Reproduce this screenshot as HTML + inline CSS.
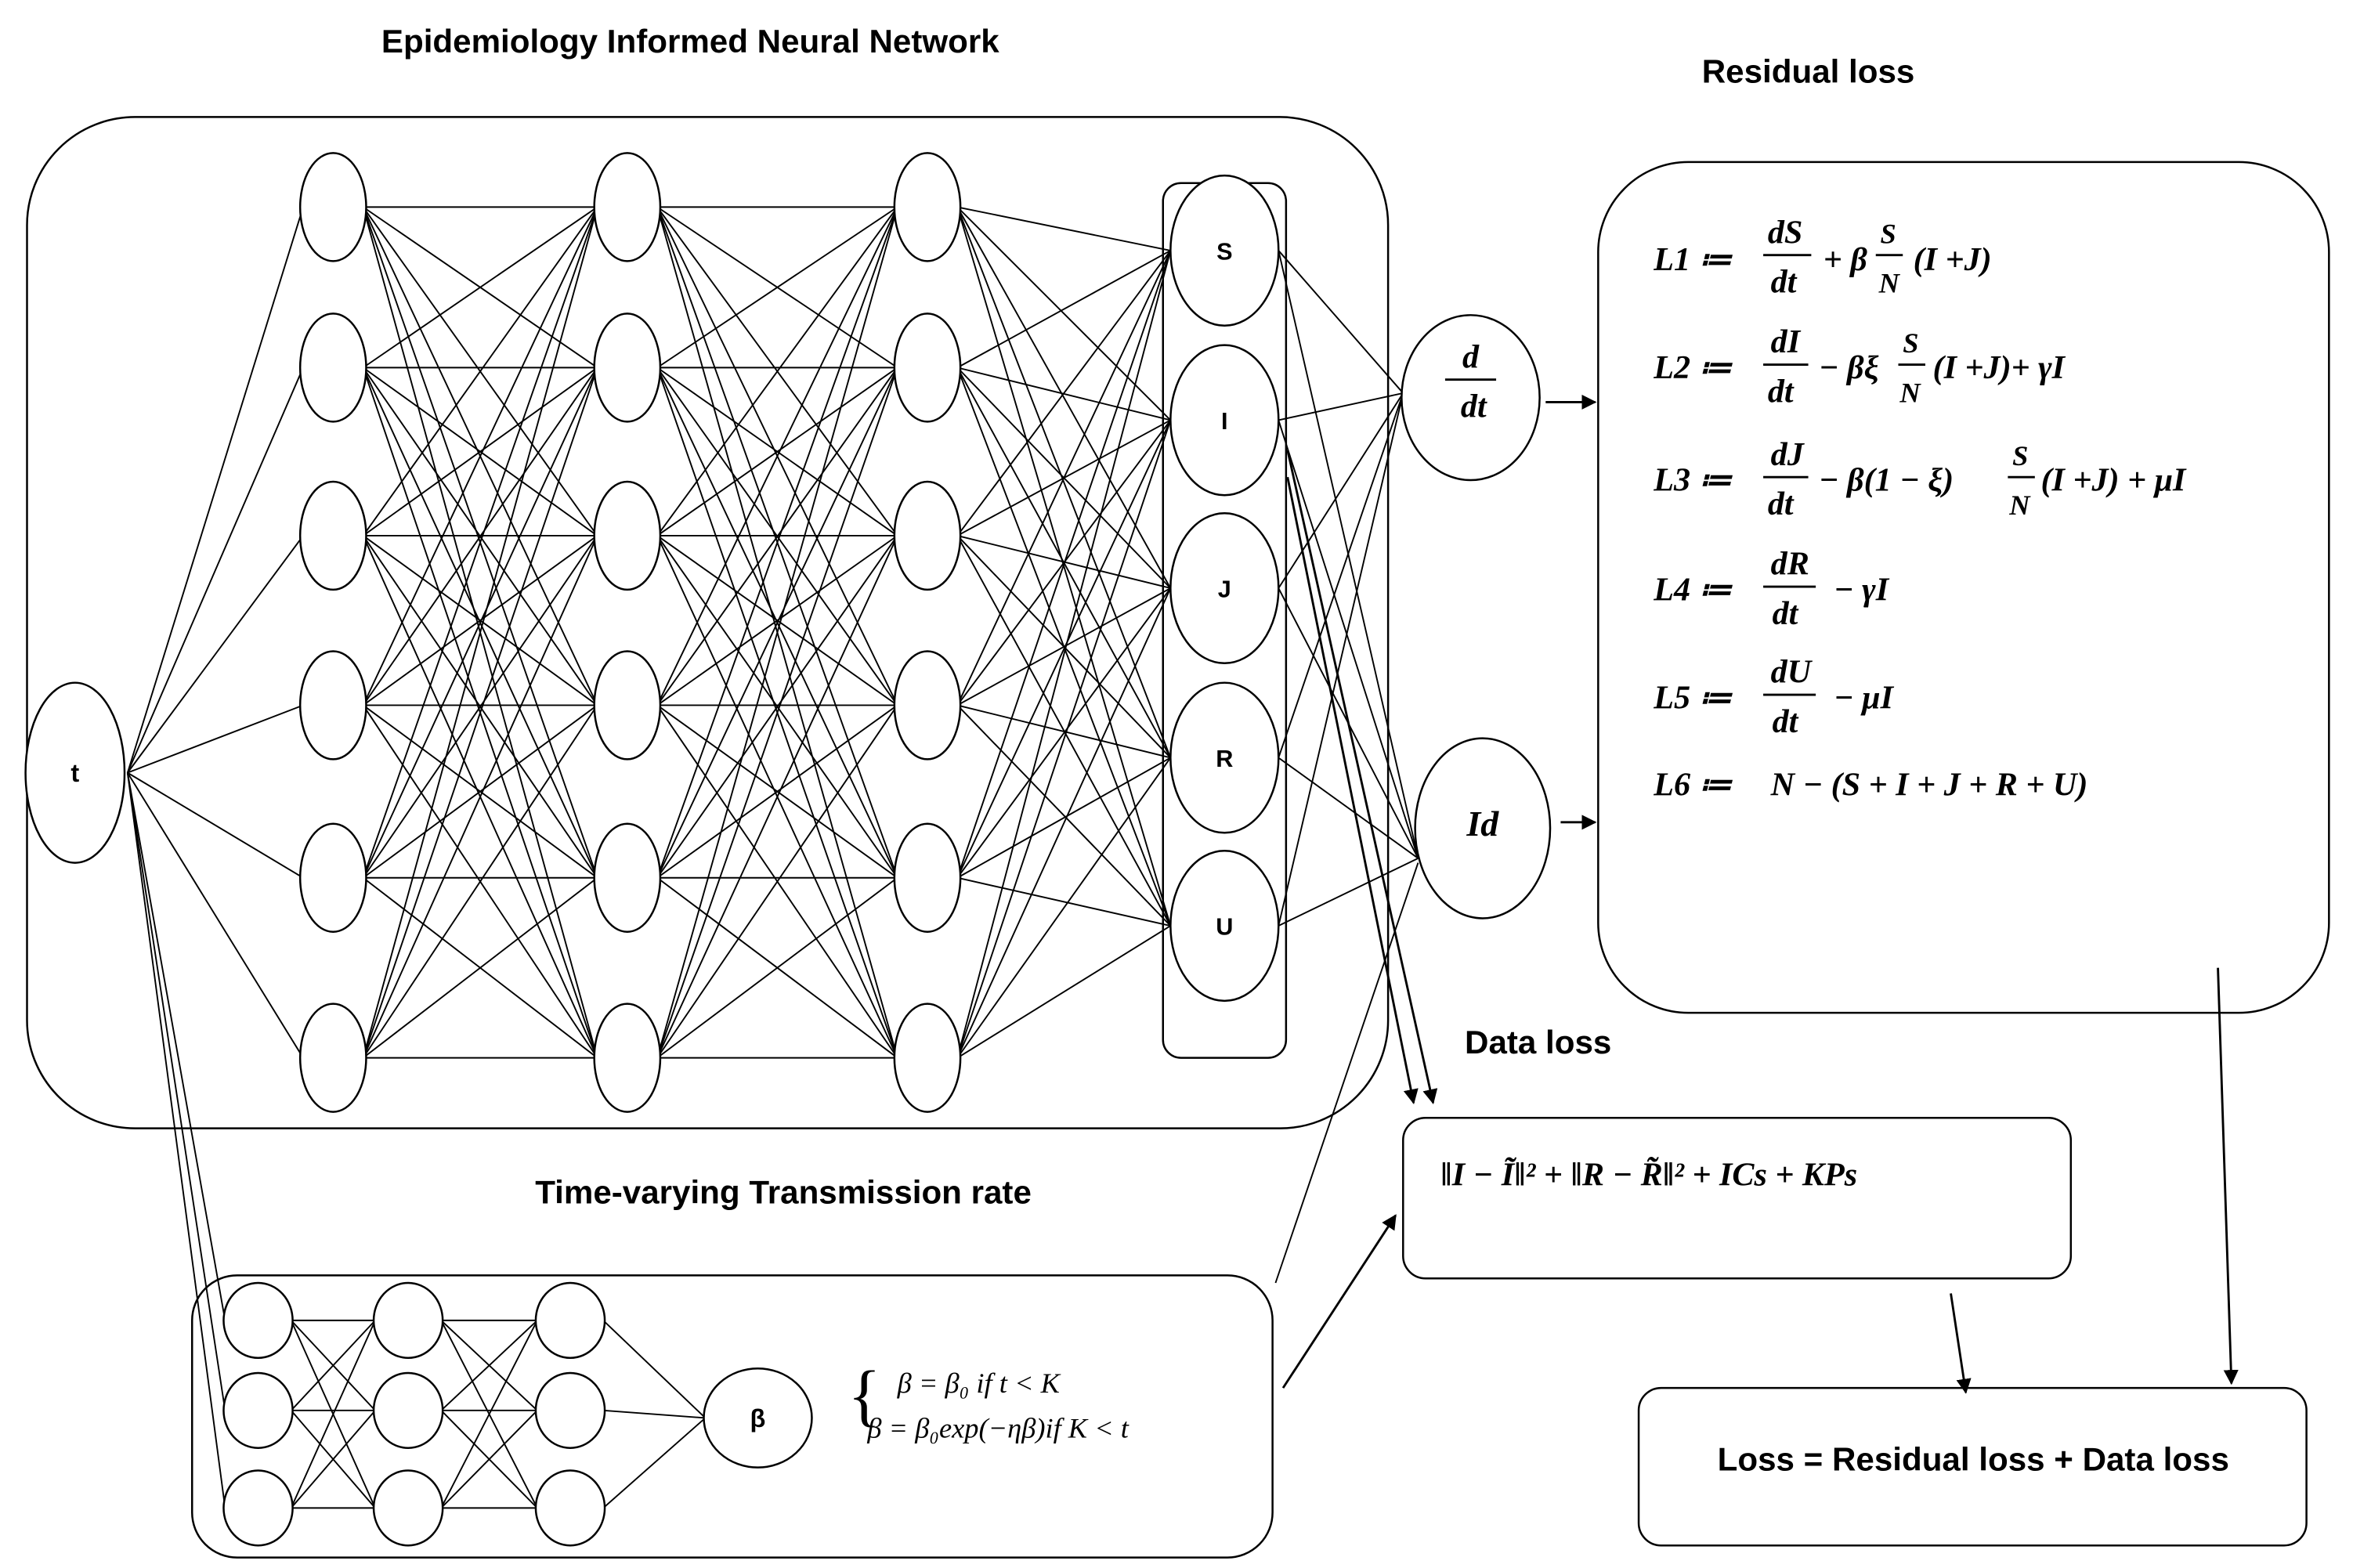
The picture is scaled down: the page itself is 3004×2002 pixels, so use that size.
<!DOCTYPE html>
<html><head><meta charset="utf-8"><style>
html,body{margin:0;padding:0;background:#fff}
svg{display:block}
.t{font-family:"Liberation Sans",sans-serif;font-weight:bold;fill:#000}
.m{font-family:"Liberation Serif",serif;font-weight:bold;font-style:italic;fill:#000;font-size:22px}
.mr{font-family:"Liberation Serif",serif;font-style:italic;fill:#000;font-size:19px}
</style></head><body>
<svg id="s" width="3004" height="2002" viewBox="0 0 1568 1045" xmlns="http://www.w3.org/2000/svg">
<defs><marker id="a" markerWidth="10" markerHeight="10" refX="9" refY="5" orient="auto" markerUnits="userSpaceOnUse"><path d="M0,0 L10,5 L0,10 z" fill="#000"/></marker></defs>
<g id="lines" stroke="#000" stroke-width="1" fill="none"></g>
<g fill="none" stroke="#000" stroke-width="1.3">
<rect x="18" y="78" width="907" height="674" rx="72"/>
<rect x="775" y="122" width="82" height="583" rx="12"/>
<rect x="1065" y="108" width="487" height="567" rx="60"/>
<rect x="935" y="745" width="445" height="107" rx="15"/>
<rect x="1092" y="925" width="445" height="105" rx="15"/>
<rect x="128" y="850" width="720" height="188" rx="30"/>
</g>
<g id="nodes" fill="#fff" stroke="#000" stroke-width="1.3"></g>
<g class="t">
<text x="460" y="35" font-size="22" text-anchor="middle">Epidemiology Informed Neural Network</text>
<text x="1205" y="55" font-size="22" text-anchor="middle">Residual loss</text>
<text x="1025" y="702" font-size="22" text-anchor="middle">Data loss</text>
<text x="522" y="802" font-size="22" text-anchor="middle">Time-varying Transmission rate</text>
<text x="1315" y="980" font-size="22" text-anchor="middle">Loss = Residual loss + Data loss</text>
<text x="50" y="521" font-size="17" text-anchor="middle">t</text>
<text x="816" y="173" font-size="16" text-anchor="middle">S</text>
<text x="816" y="286" font-size="16" text-anchor="middle">I</text>
<text x="816" y="398" font-size="16" text-anchor="middle">J</text>
<text x="816" y="511" font-size="16" text-anchor="middle">R</text>
<text x="816" y="623" font-size="16" text-anchor="middle">U</text>
<text x="505" y="951" font-size="17" text-anchor="middle">β</text>
</g>
<g class="m">
<text x="980" y="245" text-anchor="middle">d</text><line x1="963" y1="253" x2="997" y2="253" stroke="#000" stroke-width="1.5"/><text x="982" y="278" text-anchor="middle">dt</text>
<text x="988" y="557" text-anchor="middle" font-size="24">Id</text>
<text x="1102" y="180">L1 ≔</text><text x="1178" y="162">dS</text><line x1="1175" y1="170" x2="1207" y2="170" stroke="#000" stroke-width="1.5"/><text x="1180" y="195">dt</text>
<text x="1215" y="180">+ β</text><text x="1253" y="162" font-size="19">S</text><line x1="1250" y1="170" x2="1268" y2="170" stroke="#000" stroke-width="1.5"/><text x="1252" y="195" font-size="19">N</text><text x="1275" y="180">(I +J)</text>
<text x="1102" y="252">L2 ≔</text><text x="1180" y="235">dI</text><line x1="1175" y1="243" x2="1205" y2="243" stroke="#000" stroke-width="1.5"/><text x="1178" y="268">dt</text>
<text x="1212" y="252">− βξ</text><text x="1268" y="235" font-size="19">S</text><line x1="1265" y1="243" x2="1283" y2="243" stroke="#000" stroke-width="1.5"/><text x="1266" y="268" font-size="19">N</text><text x="1288" y="252">(I +J)+ γI</text>
<text x="1102" y="327">L3 ≔</text><text x="1180" y="310">dJ</text><line x1="1175" y1="318" x2="1205" y2="318" stroke="#000" stroke-width="1.5"/><text x="1178" y="343">dt</text>
<text x="1212" y="327">− β(1 − ξ)</text><text x="1341" y="310" font-size="19">S</text><line x1="1338" y1="318" x2="1356" y2="318" stroke="#000" stroke-width="1.5"/><text x="1339" y="343" font-size="19">N</text><text x="1360" y="327">(I +J) + μI</text>
<text x="1102" y="400">L4 ≔</text><text x="1180" y="383">dR</text><line x1="1175" y1="391" x2="1210" y2="391" stroke="#000" stroke-width="1.5"/><text x="1181" y="416">dt</text><text x="1222" y="400">− γI</text>
<text x="1102" y="472">L5 ≔</text><text x="1180" y="455">dU</text><line x1="1175" y1="463" x2="1210" y2="463" stroke="#000" stroke-width="1.5"/><text x="1181" y="488">dt</text><text x="1222" y="472">− μI</text>
<text x="1102" y="530">L6 ≔</text><text x="1180" y="530">N − (S + I + J + R + U)</text>
<text x="960" y="790">‖I − Ĩ‖² + ‖R − R̃‖² + ICs +  KPs</text>
</g>
<g class="mr">
<text x="565" y="945" font-size="46" font-style="normal" font-weight="normal">{</text>
<text x="598" y="928">β = β₀ if  t &lt; K</text>
<text x="578" y="958">β = β₀exp(−ηβ)if  K &lt; t</text>
</g>
<g stroke="#000" stroke-width="1.5" fill="none" marker-end="url(#a)">
<line x1="1030" y1="268" x2="1063" y2="268"/>
<line x1="1040" y1="548" x2="1063" y2="548"/>
<line x1="858" y1="300" x2="955" y2="735"/>
<line x1="858" y1="318" x2="942" y2="735"/>
<line x1="855" y1="925" x2="930" y2="810"/>
<line x1="1300" y1="862" x2="1310" y2="928"/>
<line x1="1478" y1="645" x2="1487" y2="922"/>
</g>
</svg>
<script>
var NS="http://www.w3.org/2000/svg",L=document.getElementById("lines"),N=document.getElementById("nodes");
function ln(a,b,c,d){var e=document.createElementNS(NS,"line");e.setAttribute("x1",a);e.setAttribute("y1",b);e.setAttribute("x2",c);e.setAttribute("y2",d);L.appendChild(e);}
function el(x,y,rx,ry){var e=document.createElementNS(NS,"ellipse");e.setAttribute("cx",x);e.setAttribute("cy",y);e.setAttribute("rx",rx);e.setAttribute("ry",ry);N.appendChild(e);}
var ys=[138,245,357,470,585,705],xs=[222,418,618];
var outs=[167,280,392,505,617];
el(50,515,33,60);
for(var i=0;i<6;i++)ln(85,515,xs[0]-20,ys[i]);
for(var k=0;k<2;k++)for(var i=0;i<6;i++)for(var j=0;j<6;j++)ln(xs[k]+20,ys[i],xs[k+1]-20,ys[j]);
for(var i=0;i<6;i++)for(var j=0;j<5;j++)ln(xs[2]+20,ys[i],780,outs[j]);
for(var j=0;j<5;j++){ln(852,outs[j],935,262);ln(852,outs[j],945,572);}
ln(850,855,945,575);
var by=[880,940,1005],bx=[172,272,380];
for(var i=0;i<3;i++)ln(85,515,150,by[i]);
for(var k=0;k<2;k++)for(var i=0;i<3;i++)for(var j=0;j<3;j++)ln(bx[k]+22,by[i],bx[k+1]-22,by[j]);
for(var i=0;i<3;i++)ln(bx[2]+22,by[i],470,945);
for(var k=0;k<3;k++)for(var i=0;i<6;i++)el(xs[k],ys[i],22,36);
for(var j=0;j<5;j++)el(816,outs[j],36,50);
el(980,265,46,55);el(988,552,45,60);
for(var k=0;k<3;k++)for(var i=0;i<3;i++)el(bx[k],by[i],23,25);
el(505,945,36,33);
</script>
</body></html>
